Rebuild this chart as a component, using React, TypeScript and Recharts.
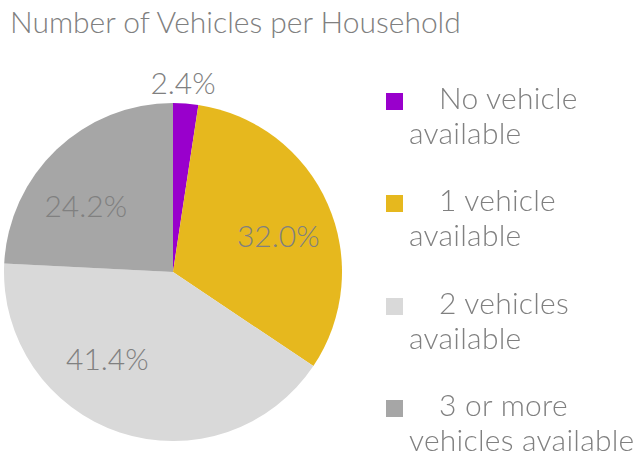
import React from 'react';
import { PieChart, Pie, Cell } from 'recharts';

const categories = ['No vehicle available', '1 vehicle available', '2 vehicles available', '3 or more vehicles available'];
const shares = [2.4, 32.0, 41.4, 24.2];
const legendLines = [
    ['No vehicle', 'available'],
    ['1 vehicle', 'available'],
    ['2 vehicles', 'available'],
    ['3 or more', 'vehicles available'],
];
const colors = ['#9900CC', '#E6B81E', '#D9D9D9', '#A6A6A6'];

const data = categories.map((name, i) => ({ name, value: shares[i] }));

const textColor = '#808080';
const font = 'Lato, "Open Sans", sans-serif';
const RADIAN = Math.PI / 180;

// label placement tweaks (radius factor, angle shift in degrees)
const labelTweaks = [
    { r: 1.125, a: 1.3 },
    { r: 0.66, a: -4.4 },
    { r: 0.64, a: -19 },
    { r: 0.65, a: 9 },
];

const renderLabel = (props: any) => {
    const { cx, cy, midAngle, outerRadius, index, value } = props;
    const t = labelTweaks[index];
    const ang = (midAngle + t.a) * RADIAN;
    const r = outerRadius * t.r;
    const x = cx + r * Math.cos(ang);
    const y = cy - r * Math.sin(ang);
    return (
        <text x={x} y={y} fill={textColor} textAnchor="middle" dominantBaseline="central"
            fontSize={30} fontFamily={font} fontWeight={300}>
            {value.toFixed(1)}%
        </text>
    );
};

function ChartLegend() {
    return (
        <div style={{ position: 'absolute', left: 386, top: 82, width: 250, fontFamily: font, fontWeight: 300, color: textColor, fontSize: 30, letterSpacing: 0.25 }}>
            {legendLines.map((lines, i) => (
                <div key={i} style={{ position: 'relative', height: 102.3, lineHeight: '30px' }}>
                    <div style={{ position: 'absolute', left: 0, top: 11, width: 17, height: 17, background: colors[i] }} />
                    <div style={{ paddingLeft: 53 }}>{lines[0]}</div>
                    <div style={{ paddingLeft: 23, marginTop: 5, whiteSpace: 'nowrap' }}>{lines[1]}</div>
                </div>
            ))}
        </div>
    );
}

export default function App() {
    return (
        <div style={{ position: 'fixed', left: 0, top: 0, width: 641, height: 456, background: '#fff' }}>
            <div style={{ position: 'absolute', left: 10, top: 3, fontFamily: font, fontWeight: 300, fontSize: 30, color: textColor, whiteSpace: 'nowrap' }}>
                Number of Vehicles per Household
            </div>
            <div style={{ position: 'absolute', left: 0, top: 0 }}>
                <PieChart width={641} height={456} margin={{ top: 0, right: 0, bottom: 0, left: 0 }}>
                    <Pie
                        data={data}
                        dataKey="value"
                        nameKey="name"
                        cx={173}
                        cy={272}
                        outerRadius={169}
                        startAngle={90}
                        endAngle={-270}
                        stroke="none"
                        label={renderLabel}
                        labelLine={false}
                        isAnimationActive={false}
                    >
                        {data.map((entry, index) => (
                            <Cell key={`cell-${index}`} fill={colors[index]} />
                        ))}
                    </Pie>
                </PieChart>
            </div>
            <ChartLegend />
        </div>
    );
}
